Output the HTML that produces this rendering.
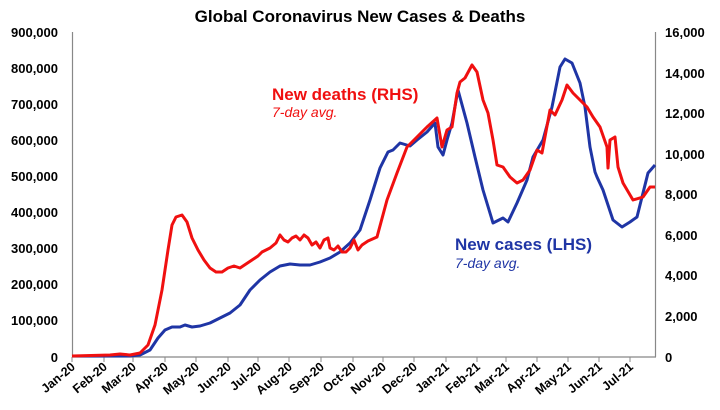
<!DOCTYPE html>
<html><head><meta charset="utf-8"><style>
body{margin:0;background:#fff;}
svg text{font-family:"Liberation Sans",Arial,sans-serif;}
</style></head><body>
<svg width="720" height="405" xmlns="http://www.w3.org/2000/svg">
<rect width="720" height="405" fill="#fff"/>
<text x="360" y="22" text-anchor="middle" font-size="17" font-weight="bold">Global Coronavirus New Cases &amp; Deaths</text>
<g stroke="#888" stroke-width="1.2" fill="none">
<line x1="72.5" y1="32" x2="72.5" y2="357"/>
<line x1="655.5" y1="32" x2="655.5" y2="357"/>
<line x1="72" y1="357" x2="656" y2="357"/>
</g>
<g stroke="#888" stroke-width="1">
<line x1="72" y1="357" x2="72" y2="362"/><line x1="104" y1="357" x2="104" y2="362"/><line x1="133" y1="357" x2="133" y2="362"/><line x1="165" y1="357" x2="165" y2="362"/><line x1="196" y1="357" x2="196" y2="362"/><line x1="228" y1="357" x2="228" y2="362"/><line x1="258" y1="357" x2="258" y2="362"/><line x1="289" y1="357" x2="289" y2="362"/><line x1="321" y1="357" x2="321" y2="362"/><line x1="353" y1="357" x2="353" y2="362"/><line x1="383" y1="357" x2="383" y2="362"/><line x1="414" y1="357" x2="414" y2="362"/><line x1="446" y1="357" x2="446" y2="362"/><line x1="477" y1="357" x2="477" y2="362"/><line x1="506" y1="357" x2="506" y2="362"/><line x1="537" y1="357" x2="537" y2="362"/><line x1="568" y1="357" x2="568" y2="362"/><line x1="599" y1="357" x2="599" y2="362"/><line x1="630" y1="357" x2="630" y2="362"/>
</g>
<g font-size="13" font-weight="bold" text-anchor="end">
<text x="58" y="37">900,000</text><text x="58" y="73">800,000</text><text x="58" y="109">700,000</text><text x="58" y="145">600,000</text><text x="58" y="181">500,000</text><text x="58" y="217">400,000</text><text x="58" y="253">300,000</text><text x="58" y="289">200,000</text><text x="58" y="325">100,000</text><text x="58" y="362">0</text>
</g>
<g font-size="13" font-weight="bold" text-anchor="start">
<text x="665" y="37">16,000</text><text x="665" y="78">14,000</text><text x="665" y="118">12,000</text><text x="665" y="159">10,000</text><text x="665" y="199">8,000</text><text x="665" y="240">6,000</text><text x="665" y="280">4,000</text><text x="665" y="321">2,000</text><text x="665" y="362">0</text>
</g>
<g font-size="12.5" font-weight="bold" text-anchor="end">
<text transform="translate(76,368) rotate(-40)">Jan-20</text>
<text transform="translate(108,368) rotate(-40)">Feb-20</text>
<text transform="translate(137,368) rotate(-40)">Mar-20</text>
<text transform="translate(169,368) rotate(-40)">Apr-20</text>
<text transform="translate(200,368) rotate(-40)">May-20</text>
<text transform="translate(232,368) rotate(-40)">Jun-20</text>
<text transform="translate(262,368) rotate(-40)">Jul-20</text>
<text transform="translate(293,368) rotate(-40)">Aug-20</text>
<text transform="translate(325,368) rotate(-40)">Sep-20</text>
<text transform="translate(357,368) rotate(-40)">Oct-20</text>
<text transform="translate(387,368) rotate(-40)">Nov-20</text>
<text transform="translate(418,368) rotate(-40)">Dec-20</text>
<text transform="translate(450,368) rotate(-40)">Jan-21</text>
<text transform="translate(481,368) rotate(-40)">Feb-21</text>
<text transform="translate(510,368) rotate(-40)">Mar-21</text>
<text transform="translate(541,368) rotate(-40)">Apr-21</text>
<text transform="translate(572,368) rotate(-40)">May-21</text>
<text transform="translate(603,368) rotate(-40)">Jun-21</text>
<text transform="translate(634,368) rotate(-40)">Jul-21</text>
</g>
<polyline fill="none" stroke="#1f35a5" stroke-width="3" stroke-linejoin="round" points="72,356 130,356 140,355 150,350 158,338 165,330 172,327 180,327 185,325 192,327 200,326 210,323 220,318 230,313 240,305 250,290 260,280 270,272 280,266 290,264 300,265 310,265 320,262 330,258 340,252 350,243 360,230 370,200 380,168 388,152 393,150 400,143 410,146 417,140 427,132 435,123 438,147 443,155 447,140 452,123 458,90 467,123 475,157 483,190 493,223 503,218 508,222 517,203 527,180 533,157 543,140 552,107 560,67 565,59 572,63 580,83 585,107 590,147 595,172 597,177 603,190 613,220 622,227 630,222 637,217 643,193 648,173 655,165"/>
<polyline fill="none" stroke="#f01010" stroke-width="3" stroke-linejoin="round" points="72,356 110,355 120,354 130,355 140,353 148,345 155,325 162,290 168,250 172,225 176,217 182,215 187,222 192,238 198,250 204,260 210,268 216,272 222,272 228,268 234,266 240,268 246,264 252,260 258,256 262,252 266,250 270,248 276,243 280,235 284,240 288,242 292,238 296,236 300,240 304,235 308,238 312,245 316,242 320,248 324,240 328,238 330,248 334,250 338,246 342,252 346,252 350,248 354,240 358,250 362,245 368,241 377,237 387,200 397,173 407,147 417,137 427,127 437,118 442,147 447,130 452,127 457,93 460,82 465,78 472,65 477,72 483,100 488,113 493,140 497,165 503,167 510,177 517,183 523,180 530,170 537,150 542,153 550,110 555,115 562,100 567,85 573,93 580,100 587,107 593,117 600,127 607,147 608,168 610,140 615,137 618,167 623,183 633,200 643,197 650,187 655,187"/>
<text x="272" y="100" font-size="17" font-weight="bold" fill="#f01010">New deaths (RHS)</text>
<text x="272" y="117" font-size="14" font-style="italic" fill="#f01010">7-day avg.</text>
<text x="455" y="250" font-size="17" font-weight="bold" fill="#1f35a5">New cases (LHS)</text>
<text x="455" y="268" font-size="14" font-style="italic" fill="#1f35a5">7-day avg.</text>
</svg>
</body></html>
